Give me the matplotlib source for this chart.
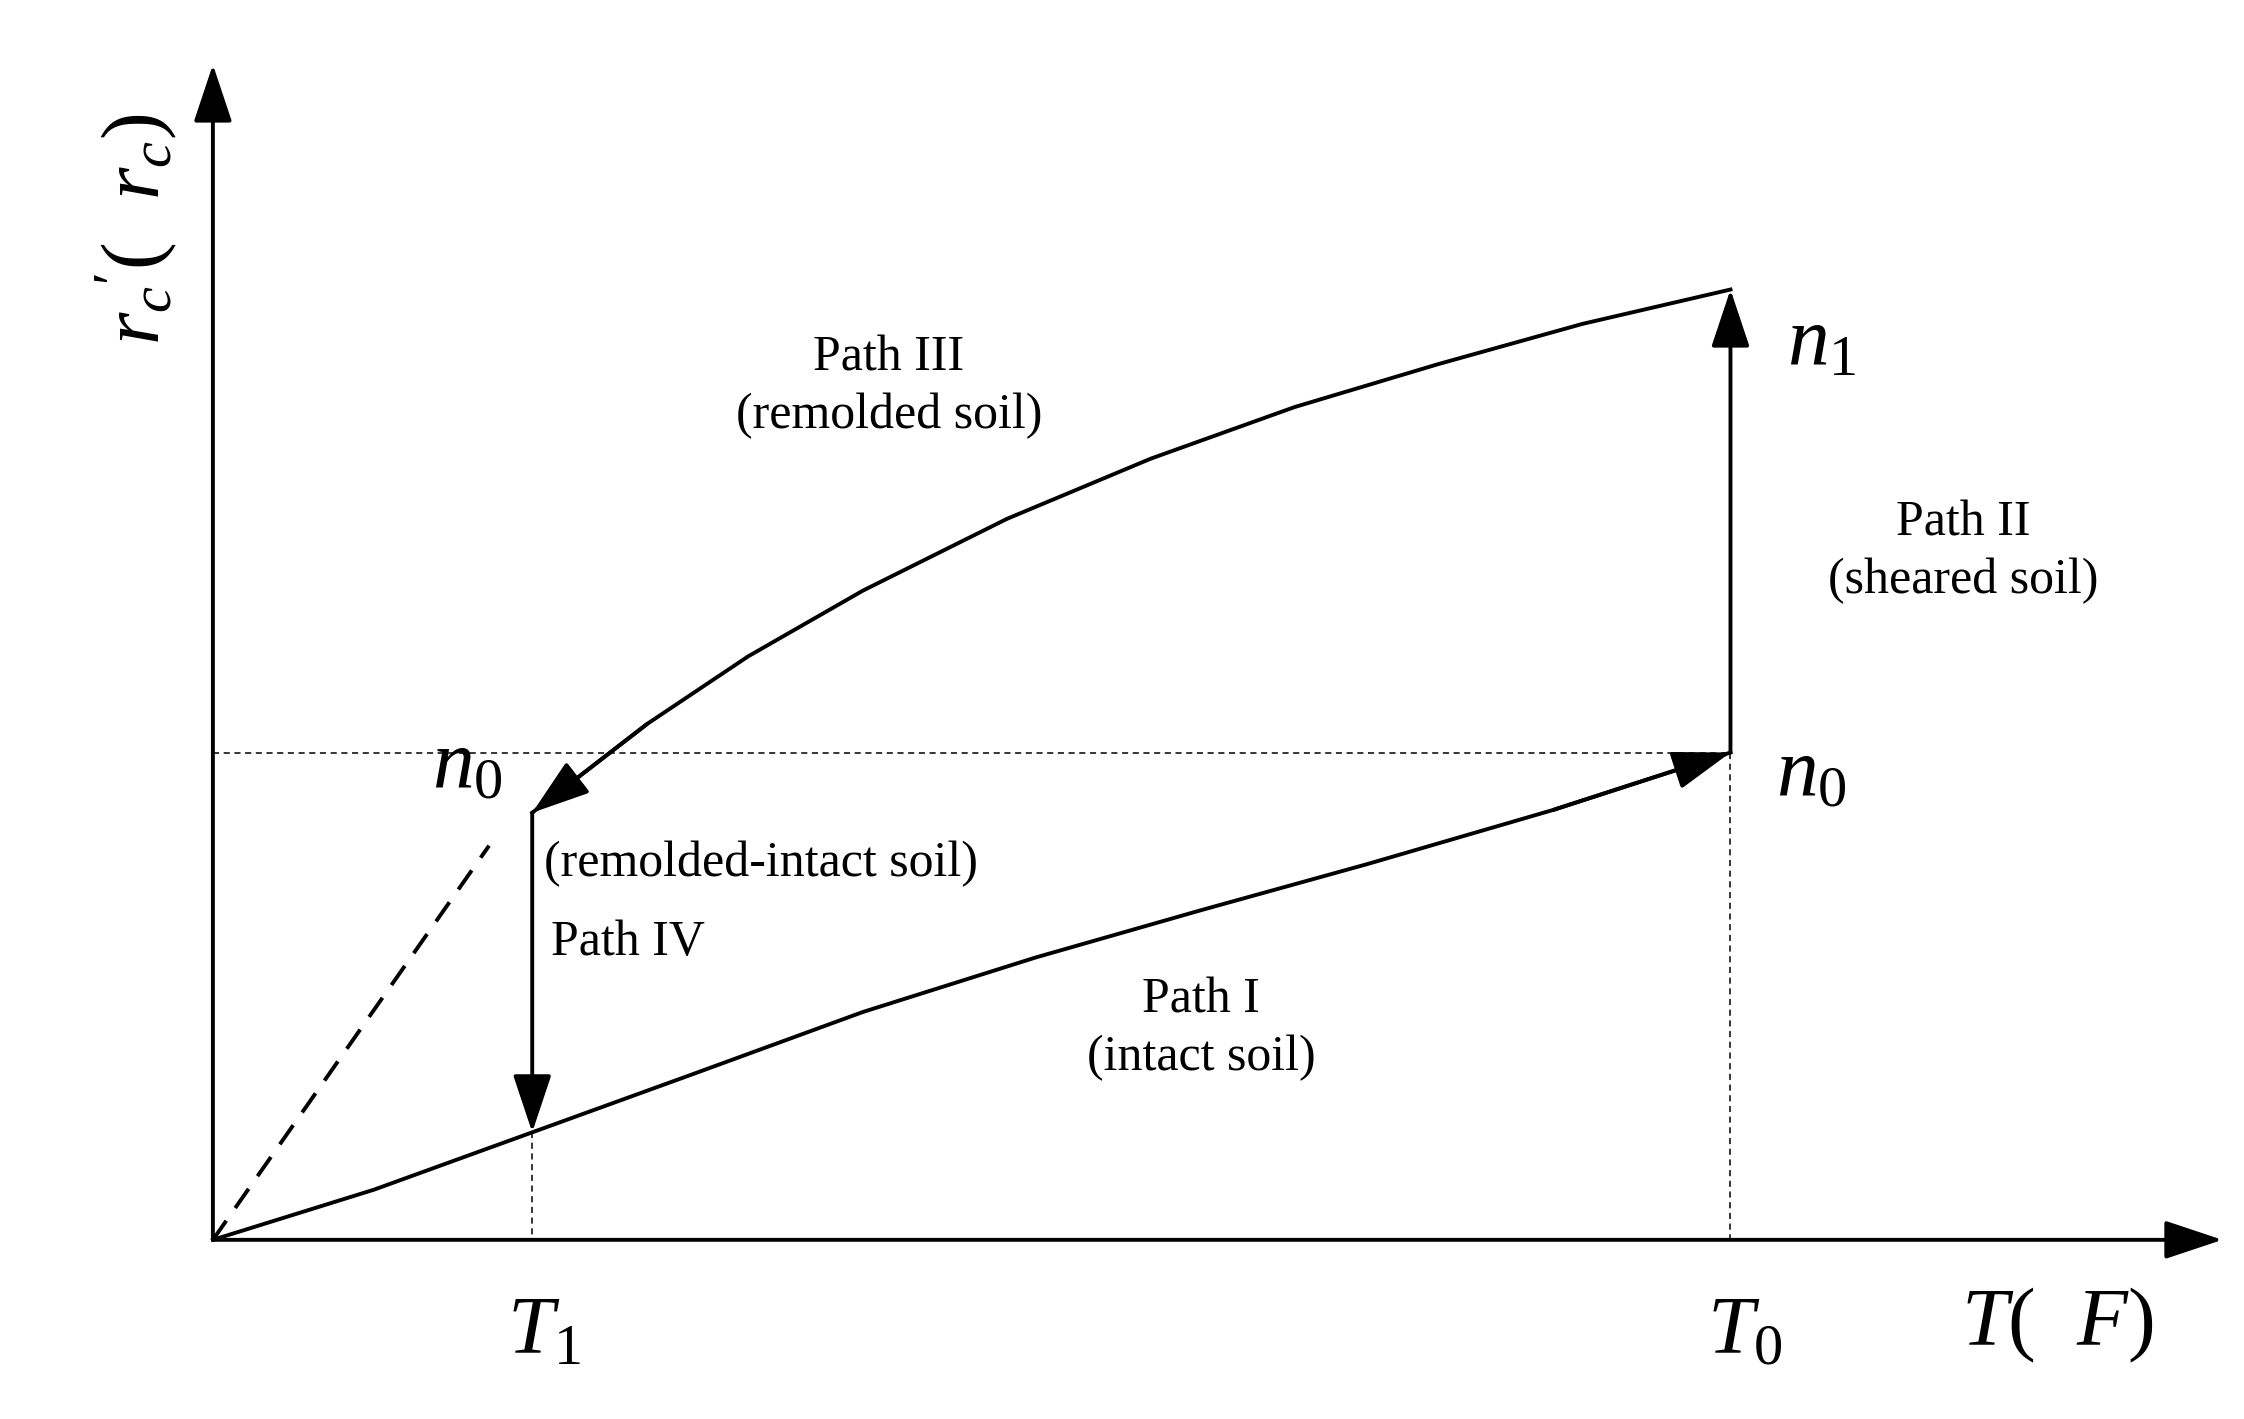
import matplotlib.pyplot as plt

plt.rcParams["font.family"] = ["Liberation Serif", "DejaVu Serif"]
plt.rcParams["mathtext.fontset"] = "custom"
plt.rcParams["mathtext.it"] = "Liberation Serif:italic"
plt.rcParams["mathtext.rm"] = "Liberation Serif"

# coordinates on the sketch plane (x right, y down as in the drawing)
origin = (148, 865)
t1_x, t0_x = 370, 1203
n0_y, n1_y = 525, 202

path1_x = [148, 260, 370, 480, 600, 720, 835, 950, 1080, 1203]
path1_y = [865, 830, 790, 750, 706, 668, 635, 603, 565, 525]
path3_x = [1203, 1100, 1000, 900, 800, 700, 600, 520, 450, 370]
path3_y = [202, 226, 254, 284, 320, 362, 412, 458, 505, 567]
dash_x = [148, 340]
dash_y = [865, 590]

fig = plt.figure(figsize=(22.44, 14.19), dpi=100)
ax = fig.add_axes([0, 0, 1, 1])
ax.set_xlim(0, 1560)
ax.set_ylim(990, 0)
ax.axis("off")

lw = 2.8
head = dict(arrowstyle="-|>,head_length=0.9,head_width=0.3", color="black",
            lw=lw, mutation_scale=40, shrinkA=0, shrinkB=0)

# axes
ax.annotate("", xy=(1545, 865), xytext=origin, arrowprops=head)
ax.annotate("", xy=(148, 45), xytext=origin, arrowprops=head)

# guide lines
thin = dict(color="black", lw=1.1, ls=(0, (4, 3)))
ax.plot([148, t0_x], [n0_y, n0_y], **thin)
ax.plot([t1_x, t1_x], [790, 865], **thin)
ax.plot([t0_x, t0_x], [525, 865], **thin)

# path I
ax.plot(path1_x, path1_y, color="black", lw=lw)
ax.annotate("", xy=(path1_x[-1], path1_y[-1]), xytext=(path1_x[-2], path1_y[-2]), arrowprops=head)
# path II
ax.annotate("", xy=(t0_x, n1_y), xytext=(t0_x, n0_y), arrowprops=head)
# path III
ax.plot(path3_x, path3_y, color="black", lw=lw)
ax.annotate("", xy=(path3_x[-1], path3_y[-1]), xytext=(path3_x[-2], path3_y[-2]), arrowprops=head)
# path IV
ax.annotate("", xy=(t1_x, 790), xytext=(t1_x, 567), arrowprops=head)
# dashed
ax.plot(dash_x, dash_y, color="black", lw=lw, ls=(0, (6, 4)))

fs = 36
ax.text(618, 270, "Path III\n(remolded soil)", fontsize=fs, ha="center", va="center", linespacing=1.3)
ax.text(1365, 385, "Path II\n(sheared soil)", fontsize=fs, ha="center", va="center", linespacing=1.3)
ax.text(835, 718, "Path I\n(intact soil)", fontsize=fs, ha="center", va="center", linespacing=1.3)
ax.text(378, 603, "(remolded-intact soil)", fontsize=fs, ha="left", va="center")
ax.text(383, 658, "Path IV", fontsize=fs, ha="left", va="center")

big = 60
ax.text(300, 535, r"$n_{0}$", fontsize=big, ha="left", va="center")
ax.text(1235, 540, r"$n_{0}$", fontsize=big, ha="left", va="center")
ax.text(1242, 240, r"$n_{1}$", fontsize=big, ha="left", va="center")
ax.text(378, 930, r"$T_{1}$", fontsize=big, ha="center", va="center")
ax.text(1213, 930, r"$T_{0}$", fontsize=big, ha="center", va="center")
ax.text(1430, 925, r"$T$(  $F$)", fontsize=big, ha="center", va="center")
ax.text(95, 160, r"$r_c{'}$(  $r_c$)", fontsize=big, ha="center", va="center", rotation=90)

fig.savefig("out.png", dpi=100)
